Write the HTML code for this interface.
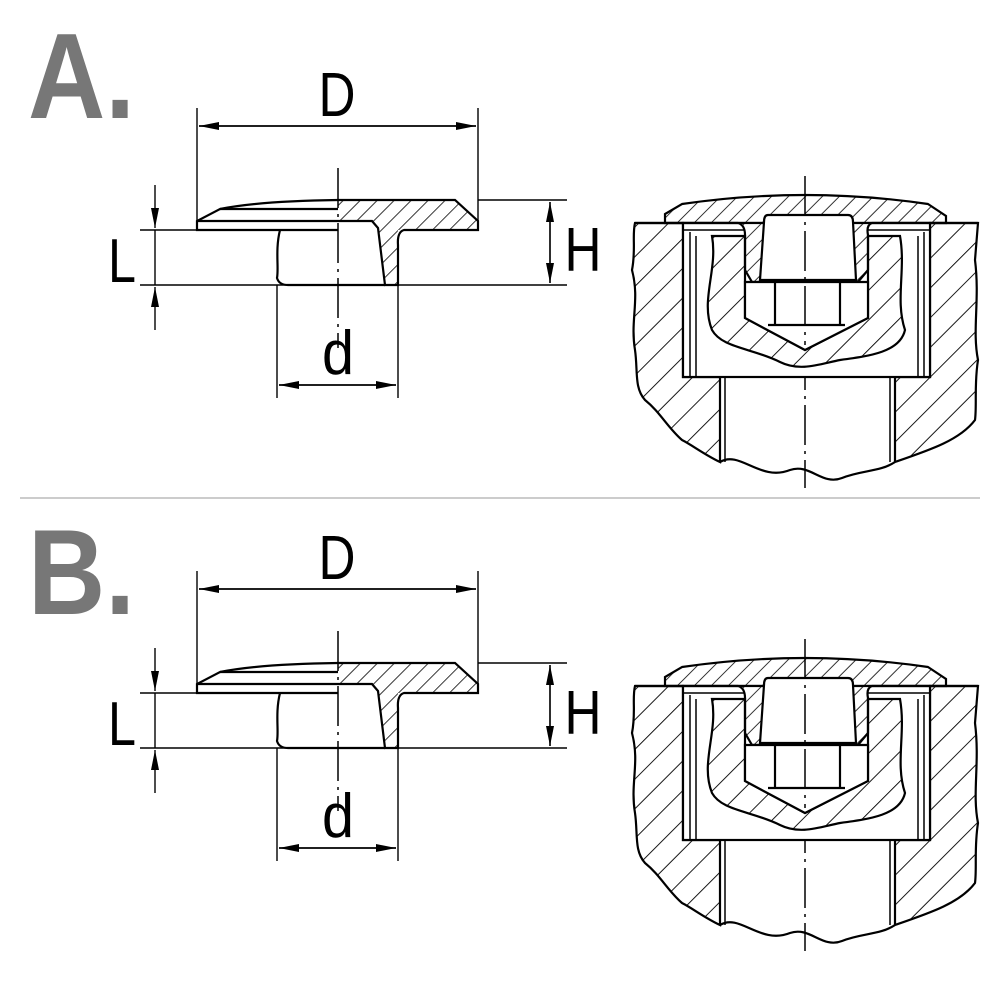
<!DOCTYPE html>
<html><head><meta charset="utf-8"><style>
html,body{margin:0;padding:0;background:#fff;width:1000px;height:1000px;overflow:hidden}
svg{display:block}
text{font-family:"Liberation Sans",sans-serif}
</style></head><body>
<svg width="1000" height="1000" viewBox="0 0 1000 1000" xmlns="http://www.w3.org/2000/svg">
<defs>
<pattern id="h" patternUnits="userSpaceOnUse" width="21" height="21" patternTransform="rotate(45)">
<line x1="0" y1="0" x2="0" y2="21" stroke="#000" stroke-width="1.8"/>
</pattern>
<pattern id="h2" patternUnits="userSpaceOnUse" width="12" height="12" patternTransform="rotate(45)">
<line x1="0" y1="0" x2="0" y2="12" stroke="#000" stroke-width="1.6"/>
</pattern>
<marker id="ar" viewBox="0 0 20 8" refX="20" refY="4" markerWidth="20" markerHeight="8" markerUnits="userSpaceOnUse" orient="auto">
<path d="M0,0 L20,4 L0,8 Z" fill="#000"/>
</marker>

<g id="cap" fill="none" stroke="#000" stroke-width="2.2">
  <path d="M338,200 L455,200 L478,221 L478,230 L398,230 C396,250 400,270 398,285 L385,285 L377,222 L338,222 Z" fill="url(#h2)" stroke="none"/>
  <path d="M338,200 L455,200 L478,221 L478,230 L404,230 Q397,232 398,245 L398,285 L385,285 L378,228 L372,221 L338,221" />
  <path d="M338,200 Q260,201 220,209 L197,221 L197,230 L338,230"/>
  <line x1="220" y1="209" x2="338" y2="209"/>
  <line x1="197" y1="221" x2="338" y2="221"/>
  <path d="M280,230 C275,250 279,268 277,278 Q279,285 288,285 L385,285"/>
  <line x1="338" y1="168" x2="338" y2="348" stroke-width="1.5" stroke-dasharray="40,6,3,6"/>
  <g stroke-width="1.4">
    <line x1="197" y1="108" x2="197" y2="221"/>
    <line x1="478" y1="108" x2="478" y2="221"/>
    <line x1="199" y1="126" x2="476" y2="126" marker-end="url(#ar)"/>
    <line x1="476" y1="126" x2="199" y2="126" marker-end="url(#ar)"/>
    <line x1="478" y1="200" x2="567" y2="200"/>
    <line x1="140" y1="230" x2="197" y2="230"/>
    <line x1="140" y1="285" x2="567" y2="285"/>
    <line x1="550" y1="283" x2="550" y2="202" marker-end="url(#ar)"/>
    <line x1="550" y1="202" x2="550" y2="283" marker-end="url(#ar)"/>
    <line x1="155" y1="185" x2="155" y2="228" marker-end="url(#ar)"/>
    <line x1="155" y1="230" x2="155" y2="285"/>
    <line x1="155" y1="330" x2="155" y2="287" marker-end="url(#ar)"/>
    <line x1="277" y1="285" x2="277" y2="398"/>
    <line x1="398" y1="285" x2="398" y2="398"/>
    <line x1="279" y1="385" x2="396" y2="385" marker-end="url(#ar)"/>
    <line x1="396" y1="385" x2="279" y2="385" marker-end="url(#ar)"/>
  </g>
  <g fill="#000" stroke="none" font-size="62">
    <text x="337" y="116" text-anchor="middle" textLength="37" lengthAdjust="spacingAndGlyphs">D</text>
    <text x="583" y="271" text-anchor="middle" textLength="37" lengthAdjust="spacingAndGlyphs">H</text>
    <text x="122" y="282" text-anchor="middle" textLength="28" lengthAdjust="spacingAndGlyphs">L</text>
    <text x="338" y="374" text-anchor="middle" textLength="32" lengthAdjust="spacingAndGlyphs">d</text>
  </g>
</g>

<g id="asm" fill="none" stroke="#000" stroke-width="2.2">
  <path d="M635,223 L683,223 L683,377 L720,377 L720,462 C705,455 692,445 682,440 C668,428 660,412 645,400 C634,388 638,370 635,350 C630,320 640,300 632,270 C636,250 632,235 635,223 Z" fill="url(#h)"/>
  <path d="M930,223 L978,223 L975,260 C980,300 972,330 978,360 C974,385 977,405 975,420 C960,440 930,450 895,462 L895,377 L930,377 Z" fill="url(#h)"/>
  <line x1="635" y1="223" x2="978" y2="223"/>
  <path d="M720,462 C740,450 760,482 790,470 C810,463 822,486 842,478 C862,470 880,472 895,462"/>
  <line x1="725" y1="377" x2="725" y2="462" stroke-width="1.5"/>
  <line x1="890" y1="377" x2="890" y2="462" stroke-width="1.5"/>
  <line x1="805" y1="350" x2="805" y2="488" stroke-width="1.5" stroke-dasharray="40,6,3,6"/>
  <rect x="683" y="223" width="247" height="154" fill="#fff"/>
  <line x1="690" y1="232" x2="690" y2="377" stroke-width="1.5"/>
  <line x1="696" y1="236" x2="696" y2="377" stroke-width="1.5"/>
  <line x1="918" y1="236" x2="918" y2="377" stroke-width="1.5"/>
  <line x1="924" y1="232" x2="924" y2="377" stroke-width="1.5"/>
  <line x1="683" y1="230" x2="745" y2="230" stroke-width="1.5"/>
  <line x1="868" y1="230" x2="930" y2="230" stroke-width="1.5"/>
  <path d="M712,236 L745,236 L745,318 L805,350 L868,318 L868,236 L900,236 C906,270 895,300 905,330 C900,352 870,356 840,360 C820,364 800,372 780,362 C752,348 722,348 712,330 C700,300 718,270 712,236 Z" fill="url(#h)"/>
  <path d="M665,223 L665,214 L682,204 Q805,186 928,204 L946,216 L946,223 L872,223 Q866,225 868,235 L868,270 L858,282 L752,282 L745,270 L745,235 Q745,225 738,223 Z" fill="url(#h2)"/>
  <path d="M768,215 L848,215 Q853,215 853,222 L856,280 L760,280 L764,222 Q764,215 768,215 Z" fill="#fff"/>
  <path d="M745,282 L745,318 L805,350 L868,318 L868,282 Z" fill="#fff"/>
  <line x1="775" y1="282" x2="775" y2="325"/>
  <line x1="840" y1="282" x2="840" y2="325"/>
  <line x1="768" y1="325" x2="845" y2="325"/>
  <line x1="805" y1="176" x2="805" y2="345" stroke-width="1.5" stroke-dasharray="40,6,3,6"/>
</g>
</defs>

<text x="28" y="118" font-size="122" font-weight="bold" fill="#777" textLength="107" lengthAdjust="spacingAndGlyphs">A.</text>
<text x="28" y="614" font-size="122" font-weight="bold" fill="#777" textLength="107" lengthAdjust="spacingAndGlyphs">B.</text>
<line x1="20" y1="498" x2="980" y2="498" stroke="#bbb" stroke-width="1.5"/>

<use href="#cap"/>
<use href="#asm"/>
<g transform="translate(0,463)">
  <use href="#cap"/>
  <use href="#asm"/>
</g>
</svg>
</body></html>
